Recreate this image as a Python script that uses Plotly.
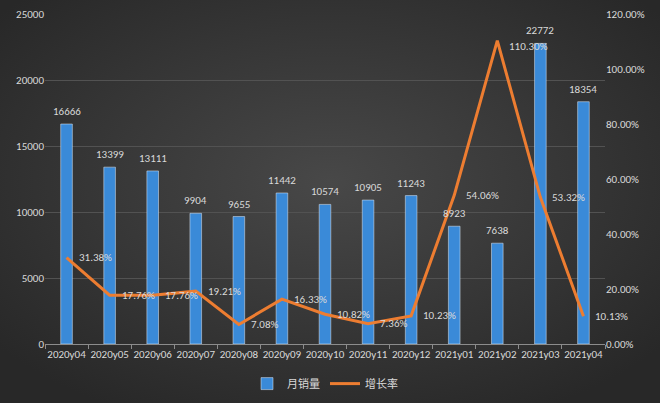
import plotly.graph_objects as go

months = ['2020y04', '2020y05', '2020y06', '2020y07', '2020y08', '2020y09', '2020y10',
          '2020y11', '2020y12', '2021y01', '2021y02', '2021y03', '2021y04']
sales = [16666, 13399, 13111, 9904, 9655, 11442, 10574, 10905, 11243, 8923, 7638, 22772, 18354]
growth = [31.38, 17.76, 17.76, 19.21, 7.08, 16.33, 10.82, 7.36, 10.23, 54.06, 110.30, 53.32, 10.13]

txt = '#d9d9d9'
font = 'Calibri, Carlito, "Liberation Sans", "Noto Sans CJK SC", sans-serif'

# radial-ish dark background like the Excel chart
bg_svg = ("data:image/svg+xml;utf8,"
          "<svg xmlns='http://www.w3.org/2000/svg' width='660' height='403'>"
          "<defs><radialGradient id='g' cx='50%' cy='45%' r='65%'>"
          "<stop offset='0%' stop-color='%23484848'/>"
          "<stop offset='100%' stop-color='%23282828'/>"
          "</radialGradient></defs>"
          "<rect width='660' height='403' fill='url(%23g)'/></svg>")

fig = go.Figure()
fig.add_trace(go.Bar(
    x=months, y=sales, name='月销量', width=0.27,
    marker=dict(color='#3a8ad8'),
))
fig.add_trace(go.Scatter(
    x=months, y=[g / 100 for g in growth], name='增长率', yaxis='y2',
    mode='lines', line=dict(color='#ed7d31', width=3),
))

# bar value labels, sitting a little above each bar
for m, v in zip(months, sales):
    fig.add_annotation(x=m, y=v, text=str(v), showarrow=False, yanchor='bottom',
                       yshift=4, font=dict(color=txt, size=11))

# growth labels to the right of each point (peak one nudged down to clear the bar label)
peak = max(growth)
for m, g in zip(months, growth):
    fig.add_annotation(x=m, y=g / 100, yref='y2', text='%.2f%%' % g, showarrow=False,
                       xanchor='left', xshift=10, yshift=-6 if g == peak else 0,
                       font=dict(color=txt, size=11))

fig.update_layout(
    width=660, height=403,
    margin=dict(l=45, r=55, t=14, b=59, autoexpand=False),
    paper_bgcolor='#363636', plot_bgcolor='rgba(0,0,0,0)',
    font=dict(family=font, color=txt, size=11),
    images=[dict(source=bg_svg, xref='paper', yref='paper',
                 x=-45 / 560, y=1 + 14 / 330, sizex=660 / 560, sizey=403 / 330,
                 sizing='stretch', layer='below', xanchor='left', yanchor='top')],
    xaxis=dict(range=[-0.5, len(months) - 0.5], showgrid=False, showline=True,
               linecolor='#8c8c8c', linewidth=1,
               ticks='outside', tickson='boundaries', ticklen=4, tickcolor='#8c8c8c',
               tickfont=dict(color=txt, size=11), tickangle=0, automargin=False),
    yaxis=dict(range=[0, 25000], dtick=5000, tickformat='d', showgrid=True,
               gridcolor='#525252', gridwidth=1, zeroline=False,
               tickfont=dict(color=txt, size=11), ticks='', showline=False, automargin=False),
    yaxis2=dict(range=[0, 1.2], dtick=0.2, tickformat='.2%', overlaying='y', side='right',
                showgrid=False, zeroline=False, tickfont=dict(color=txt, size=11),
                automargin=False),
    legend=dict(orientation='h', x=0.5, xanchor='center', y=-0.12, yanchor='middle',
                font=dict(color=txt, size=11), bgcolor='rgba(0,0,0,0)'),
    bargap=0.2,
)

fig.write_html('out.html', config={'displayModeBar': False},
               post_script="document.body.style.margin='0';"
                           "document.body.style.background='#2b2b2b';")
